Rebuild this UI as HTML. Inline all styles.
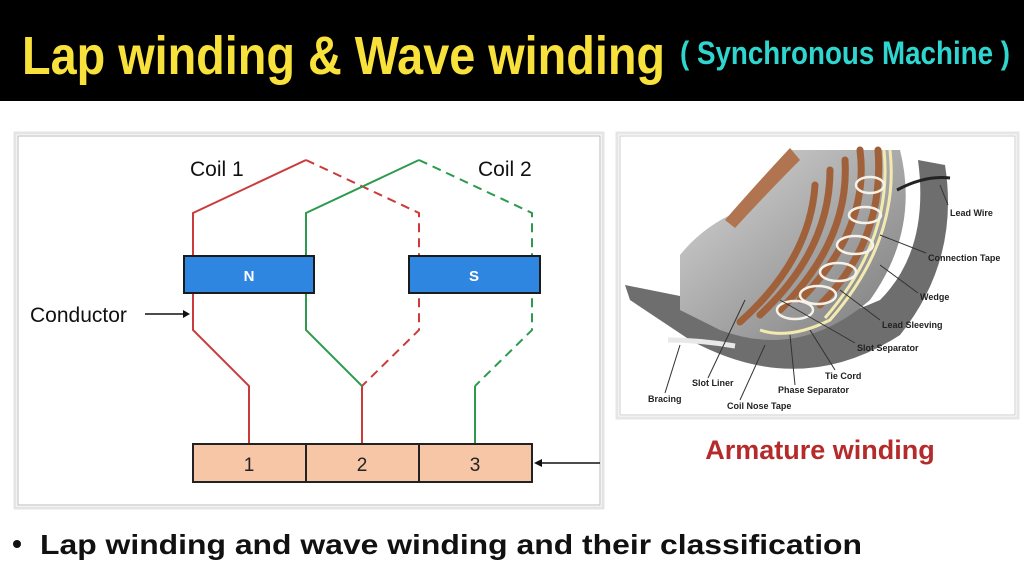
<!DOCTYPE html>
<html><head><meta charset="utf-8"><style>
html,body{margin:0;padding:0;width:1024px;height:576px;overflow:hidden;background:#fff;font-family:"Liberation Sans",sans-serif}
</style></head><body>
<svg width="1024" height="576" viewBox="0 0 1024 576" xmlns="http://www.w3.org/2000/svg" font-family="Liberation Sans, sans-serif">
<defs>
<linearGradient id="g1" x1="0" y1="0" x2="1" y2="1"><stop offset="0" stop-color="#d8d8d8"/><stop offset="1" stop-color="#7a7a7a"/></linearGradient>
<linearGradient id="g2" x1="0" y1="0" x2="1" y2="0"><stop offset="0" stop-color="#a8a8a8"/><stop offset="1" stop-color="#e0e0e0"/></linearGradient>
</defs>
<rect x="0" y="0" width="1024" height="101" fill="#000"/>
<text x="22" y="74" fill="#f7e13a" font-family="Liberation Sans Narrow, Liberation Sans, sans-serif" font-weight="bold" font-size="54" textLength="643" lengthAdjust="spacingAndGlyphs">Lap winding &amp; Wave winding</text>
<text x="680" y="64" fill="#2fd6d0" font-family="Liberation Sans Narrow, Liberation Sans, sans-serif" font-weight="bold" font-size="32" textLength="330" lengthAdjust="spacingAndGlyphs">( Synchronous Machine )</text>

<!-- left panel -->
<rect x="18" y="136" width="582" height="369" fill="#fff" stroke="#bbb" stroke-width="1"/>
<rect x="15" y="133" width="588" height="375" fill="none" stroke="#e4e4e4" stroke-width="3"/>
<text x="190" y="176" font-size="21" fill="#111">Coil 1</text>
<text x="478" y="176" font-size="21" fill="#111">Coil 2</text>
<g fill="none" stroke-width="2">
<polyline points="249,444 249,386 193,330 193,213 306,160" stroke="#cc3b3b"/>
<polyline points="306,160 419,213 419,330 362,386" stroke="#cc3b3b" stroke-dasharray="9,6"/>
<line x1="362" y1="386" x2="362" y2="444" stroke="#cc3b3b"/>
<polyline points="362,386 306,330 306,213 419,160" stroke="#2e9a4e"/>
<polyline points="419,160 532,213 532,330 475,386" stroke="#2e9a4e" stroke-dasharray="9,6"/>
<line x1="475" y1="386" x2="475" y2="444" stroke="#2e9a4e"/>
</g>
<rect x="184" y="256" width="130" height="37" fill="#2f86e0" stroke="#1b1b1b" stroke-width="2"/>
<text x="249" y="281" font-size="15" font-weight="bold" fill="#fff" text-anchor="middle">N</text>
<rect x="409" y="256" width="131" height="37" fill="#2f86e0" stroke="#1b1b1b" stroke-width="2"/>
<text x="474" y="281" font-size="15" font-weight="bold" fill="#fff" text-anchor="middle">S</text>
<text x="30" y="322" font-size="21" fill="#111">Conductor</text>
<line x1="145" y1="314" x2="188" y2="314" stroke="#111" stroke-width="1.5"/>
<path d="M190,314 l-7,-4 v8 z" fill="#111"/>
<rect x="193" y="444" width="339" height="38" fill="#f6c6a6" stroke="#222" stroke-width="2"/>
<line x1="306" y1="444" x2="306" y2="482" stroke="#222" stroke-width="2"/>
<line x1="419" y1="444" x2="419" y2="482" stroke="#222" stroke-width="2"/>
<text x="249" y="471" font-size="19" text-anchor="middle" fill="#222">1</text>
<text x="362" y="471" font-size="19" text-anchor="middle" fill="#222">2</text>
<text x="475" y="471" font-size="19" text-anchor="middle" fill="#222">3</text>
<line x1="600" y1="463" x2="538" y2="463" stroke="#111" stroke-width="1.5"/>
<path d="M534,463 l8,-4 v8 z" fill="#111"/>

<!-- right panel -->
<rect x="620" y="136" width="395" height="279" fill="#fff" stroke="#ccc" stroke-width="1"/>
<rect x="617" y="133" width="401" height="285" fill="none" stroke="#e6e6e6" stroke-width="3"/>
<path d="M625,285 L700,300 Q780,345 880,300 Q930,250 918,160 L945,165 Q960,260 900,335 Q800,400 690,340 L630,300 Z" fill="#6e6e6e"/>
<path d="M680,255 Q700,230 730,215 Q770,175 790,150 L900,150 Q920,230 870,300 Q800,360 720,330 L680,310 Z" fill="url(#g1)"/>
<path d="M725,220 Q760,180 790,148 L800,160 Q770,190 735,228 Z" fill="#b07450"/>
<g stroke="#a0603a" stroke-width="7" stroke-linecap="round" fill="none">
<path d="M860,150 Q870,230 800,300"/><path d="M845,160 Q850,240 780,310"/><path d="M830,170 Q830,250 760,315"/><path d="M815,185 Q810,260 740,322"/>
<path d="M878,150 Q885,240 820,305"/>
</g>
<g stroke="#f3eab0" stroke-width="3" fill="none">
<path d="M890,150 Q900,240 830,320 Q790,340 760,330"/><path d="M884,150 Q893,240 825,318"/>
</g>
<g stroke="#f5f2ea" stroke-width="2.5" fill="none">
<ellipse cx="870" cy="185" rx="14" ry="8"/><ellipse cx="865" cy="215" rx="16" ry="8"/><ellipse cx="855" cy="245" rx="18" ry="9"/><ellipse cx="838" cy="272" rx="18" ry="9"/><ellipse cx="818" cy="295" rx="18" ry="9"/><ellipse cx="795" cy="310" rx="18" ry="9"/>
</g>
<path d="M897,190 Q925,175 950,178" stroke="#222" stroke-width="3" fill="none"/>
<path d="M668,340 Q700,340 735,346" stroke="#e8e8e8" stroke-width="5" fill="none"/>
<g stroke="#333" stroke-width="1" fill="none">
<line x1="948" y1="205" x2="940" y2="185"/><line x1="926" y1="253" x2="880" y2="235"/><line x1="918" y1="293" x2="880" y2="265"/>
<line x1="880" y1="320" x2="840" y2="290"/><line x1="855" y1="343" x2="780" y2="300"/><line x1="835" y1="370" x2="810" y2="330"/>
<line x1="795" y1="385" x2="790" y2="335"/><line x1="740" y1="400" x2="765" y2="345"/><line x1="708" y1="378" x2="745" y2="300"/><line x1="665" y1="393" x2="680" y2="345"/>
</g>
<g font-size="9" font-weight="bold" fill="#222">
<text x="950" y="216">Lead Wire</text><text x="928" y="261">Connection Tape</text><text x="920" y="300">Wedge</text>
<text x="882" y="328">Lead Sleeving</text><text x="857" y="351">Slot Separator</text><text x="825" y="379">Tie Cord</text>
<text x="778" y="393">Phase Separator</text><text x="727" y="409">Coil Nose Tape</text><text x="692" y="386">Slot Liner</text><text x="648" y="402">Bracing</text>
</g>
<text x="820" y="459" font-size="27" font-weight="bold" fill="#b52a2a" text-anchor="middle">Armature winding</text>
<circle cx="17" cy="544" r="4" fill="#111"/>
<text x="40" y="554" font-size="28" font-weight="bold" fill="#111" textLength="822" lengthAdjust="spacingAndGlyphs">Lap winding and wave winding and their classification</text>
</svg>
</body></html>
